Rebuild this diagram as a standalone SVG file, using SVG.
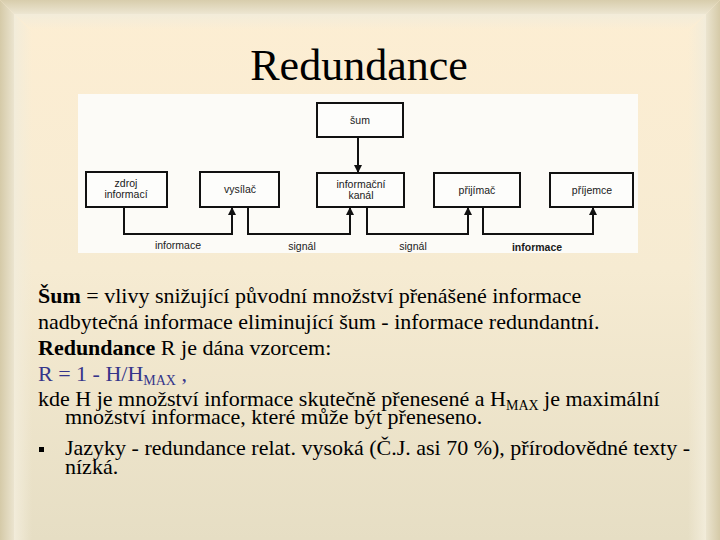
<svg xmlns="http://www.w3.org/2000/svg" width="720" height="540" viewBox="0 0 720 540">
<defs>
<linearGradient id="bg" x1="0" y1="0" x2="0" y2="1">
<stop offset="0" stop-color="#fdeed3"/>
<stop offset="0.5" stop-color="#f6ebd2"/>
<stop offset="1" stop-color="#e6dec4"/>
</linearGradient>
<linearGradient id="lEdge" x1="0" y1="0" x2="1" y2="0">
<stop offset="0" stop-color="#d5caa8"/>
<stop offset="1" stop-color="#ebe4cf"/>
</linearGradient>
<linearGradient id="rEdge" x1="1" y1="0" x2="0" y2="0">
<stop offset="0" stop-color="#d5caa8"/>
<stop offset="1" stop-color="#ebe4cf"/>
</linearGradient>
<linearGradient id="tEdge" x1="0" y1="0" x2="0" y2="1">
<stop offset="0" stop-color="#d8cdac"/>
<stop offset="1" stop-color="#ede6d2"/>
</linearGradient>
<linearGradient id="lIn" x1="0" y1="0" x2="1" y2="0">
<stop offset="0" stop-color="#f2ecda" stop-opacity="1"/>
<stop offset="1" stop-color="#f2ecda" stop-opacity="0"/>
</linearGradient>
<linearGradient id="rIn" x1="1" y1="0" x2="0" y2="0">
<stop offset="0" stop-color="#f2ecda" stop-opacity="1"/>
<stop offset="1" stop-color="#f2ecda" stop-opacity="0"/>
</linearGradient>
<linearGradient id="tIn" x1="0" y1="0" x2="0" y2="1">
<stop offset="0" stop-color="#f2ecda" stop-opacity="1"/>
<stop offset="1" stop-color="#f2ecda" stop-opacity="0"/>
</linearGradient>
<marker id="arr" markerWidth="8" markerHeight="10" refX="7" refY="4" orient="auto" markerUnits="userSpaceOnUse">
<path d="M0,0 L8,4 L0,8 Z" fill="#111"/>
</marker>
<style>
.box{fill:#fdfdfb;stroke:#111;stroke-width:2}
.dt{font-family:"Liberation Sans",Arial,sans-serif;font-size:10.5px;fill:#1a1a1a;text-anchor:middle}
.con{fill:none;stroke:#111;stroke-width:2}
.tx{font-family:"Liberation Serif","Times New Roman",serif;font-size:22px;fill:#000}
.sub{font-size:14px}
</style>
</defs>
<rect x="0" y="0" width="720" height="540" fill="url(#bg)"/>
<polygon points="0,0 14,14 14,540 0,540" fill="url(#lEdge)"/>
<polygon points="720,0 706,14 706,540 720,540" fill="url(#rEdge)"/>
<polygon points="0,0 720,0 706,14 14,14" fill="url(#tEdge)"/>
<polygon points="14,14 32,32 32,540 14,540" fill="url(#lIn)"/>
<polygon points="706,14 688,32 688,540 706,540" fill="url(#rIn)"/>
<polygon points="14,14 706,14 688,30 32,30" fill="url(#tIn)"/>

<text x="359" y="80" font-family="'Liberation Serif','Times New Roman',serif" font-size="44" text-anchor="middle" fill="#000">Redundance</text>

<rect x="78" y="94" width="560" height="159" fill="#fcfbf7"/>

<g id="zdroj"><rect class="box" x="86" y="172" width="81" height="35"/><text class="dt" x="126" y="187">zdroj</text><text class="dt" x="126" y="198">informací</text></g>
<g id="vysilac"><rect class="box" x="200" y="172" width="79" height="35"/><text class="dt" x="240" y="193">vysílač</text></g>
<g id="sum"><rect class="box" x="317" y="103" width="86" height="34"/><text class="dt" x="360" y="124">šum</text></g>
<g id="kanal"><rect class="box" x="317" y="173" width="87" height="34"/><text class="dt" x="361" y="188">informační</text><text class="dt" x="361" y="199">kanál</text></g>
<g id="prijimac"><rect class="box" x="434" y="173" width="86" height="34"/><text class="dt" x="477" y="194">přijímač</text></g>
<g id="prijemce"><rect class="box" x="550" y="173" width="83" height="34"/><text class="dt" x="592" y="194">příjemce</text></g>

<g id="connectors">
<path class="con" d="M124,207 V234 H232 V208" marker-end="url(#arr)"/>
<path class="con" d="M248,207 V234 H350 V208" marker-end="url(#arr)"/>
<path class="con" d="M367,207 V234 H468 V208" marker-end="url(#arr)"/>
<path class="con" d="M483,207 V234 H593 V208" marker-end="url(#arr)"/>
<path class="con" d="M358,137 V172" marker-end="url(#arr)"/>
<text class="dt" x="178" y="249">informace</text>
<text class="dt" x="302" y="250">signál</text>
<text class="dt" x="413" y="250">signál</text>
<text class="dt" x="537" y="251" font-weight="bold">informace</text>
</g>

<text class="tx" x="38" y="303"><tspan font-weight="bold">Šum</tspan> = vlivy snižující původní množství přenášené informace</text>
<text class="tx" x="38" y="329">nadbytečná informace eliminující šum - informace redundantní.</text>
<text class="tx" x="38" y="355"><tspan font-weight="bold">Redundance</tspan> R je dána vzorcem:</text>
<text class="tx" x="38" y="381" style="fill:#35358a">R = 1 - H/H<tspan class="sub" dy="4">MAX</tspan><tspan dy="-4"> ,</tspan></text>
<text class="tx" x="38" y="406">kde H je množství informace skutečně přenesené a H<tspan class="sub" dy="4">MAX</tspan><tspan dy="-4"> je maximální</tspan></text>
<text class="tx" x="65" y="424">množství informace, které může být přeneseno.</text>
<rect x="39" y="447" width="5" height="5" fill="#000"/>
<text class="tx" x="65" y="455">Jazyky - redundance relat. vysoká (Č.J. asi 70 %), přírodovědné texty -</text>
<text class="tx" x="65" y="474">nízká.</text>
</svg>
